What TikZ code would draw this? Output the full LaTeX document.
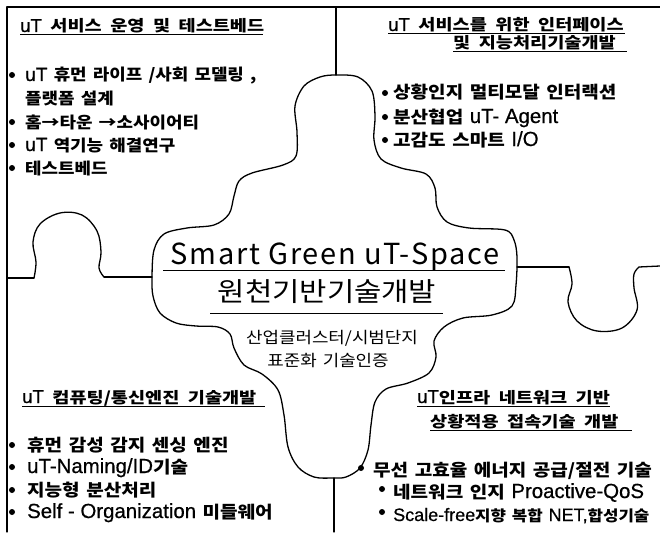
\documentclass[tikz,border=0pt]{standalone}
\usepackage{fontspec}
\setmainfont{Noto Sans CJK KR}
\newfontfamily\kr[FakeStretch=1.12,WordSpace=2]{Noto Sans CJK KR}
\newfontfamily\krb[FakeStretch=1.12,WordSpace=1.5]{Noto Sans CJK KR}
\newfontfamily\krt[FakeStretch=1.2,WordSpace=2]{Noto Sans CJK KR}
\newfontfamily\krc[LetterSpace=6]{Noto Sans CJK KR}
\newfontfamily\latf[Scale=1.2,FakeBold=0.6]{Liberation Sans}
\newcommand\latn[1]{{\latf\mdseries #1}}
\begin{document}
\begin{tikzpicture}[x=1pt,y=-1pt,
  outl/.style={line width=1.3pt,line join=round,line cap=round},
  txt/.style={anchor=base west,inner sep=0pt,font=\kr\bfseries\fontsize{16}{18}\selectfont},
  txtb/.style={anchor=base west,inner sep=0pt,font=\krb\bfseries\fontsize{17}{19}\selectfont},
  ttl/.style={anchor=base west,inner sep=0pt,font=\krt\bfseries\fontsize{15.5}{18}\selectfont},
  bul/.style={circle,fill,inner sep=0pt,minimum size=6pt},
  ul/.style={line width=1pt},
  ctr/.style={anchor=base,inner sep=0pt}]
\useasboundingbox (0,0) rectangle (660,532);
% frame
\draw[outl] (7,532) -- (7,7) -- (660,7);
\draw[outl] (336,7) -- (336,75);
\draw[outl] (334,478) -- (334,532);
% central puzzle piece
\draw[outl] plot[smooth cycle,tension=0.55] coordinates {
 (336,75) (358,77) (372,91) (375,116) (374,140) (381,159) (401,168) (426,174)
 (435,188) (437,207) (447,222) (469,228) (505,230) (514,240) (517,257) (516,285)
 (512,306) (492,315) (463,318) (444,327) (434,341) (436,357) (429,373) (408,383)
 (386,389) (375,402) (371,425) (368,450) (360,468) (346,477) (333,478) (314,477)
 (298,467) (288,447) (284,415) (278,390) (262,374) (244,365) (234,348) (230,334)
 (218,327) (196,326) (176,323) (160,313) (153,296) (152,277) (154,250) (164,234)
 (187,228) (214,225) (229,214) (234,196) (239,181) (252,173) (283,165) (296,156)
 (297,132) (295,106) (304,86) (320,77)};
% right line with tab
\draw[outl] (517,267) -- (569,267);
\draw[outl] plot[smooth,tension=0.6] coordinates {(569,267) (572,284) (568,302) (577,321) (597,331) (622,328) (637,310) (634,288) (634,274) (639,267)};
\draw[outl] (639,267) -- (660,266);
% left line with tab
\draw[outl] (7,278) -- (34,278);
\draw[outl] plot[smooth,tension=0.6] coordinates {(34,278) (36,262) (33,242) (40,224) (60,213) (82,215) (97,231) (101,252) (99,268) (104,277)};
\draw[outl] (104,277) -- (152,277);

% top-left
\node[ttl] (tlT) at (20,32) {\latn{uT} 서비스 운영 및 테스트베드};
\draw[ul] (20,35) -- (263,35);
\node[bul] (tlb1) at (12,75) {};
\node[txt] (tl1) at (25,81) {\latn{uT} 휴먼 라이프 /사회 모델링 ,};
\node[txt] (tl1b) at (25,104) {플랫폼 설계};
\node[bul] (tlb2) at (12,122) {};
\node[txt] (tl2) at (25,128) {홈→타운 →소사이어티};
\node[bul] (tlb3) at (12,145) {};
\node[txt] (tl3) at (25,151) {\latn{uT} 역기능 해결연구};
\node[bul] (tlb4) at (12,168) {};
\node[txt] (tl4) at (25,174) {테스트베드};

% top-right
\node[ttl] (trT1) at (388,31) {\latn{uT} 서비스를 위한 인터페이스};
\draw[ul] (388,34) -- (625,34);
\node[ttl] (trT2) at (453,49) {및 지능처리기술개발};
\draw[ul] (453,52) -- (627,52);
\node[bul] (trb1) at (385,93) {};
\node[txtb] (tr1) at (393,99) {상황인지 멀티모달 인터랙션};
\node[bul] (trb2) at (385,117) {};
\node[txtb] (tr2) at (393,123) {분산협업 \latn{uT- Agent}};
\node[bul] (trb3) at (385,140) {};
\node[txtb] (tr3) at (393,146) {고감도 스마트 \latn{I/O}};

% centre
\node[ctr,font=\krc\fontsize{29}{32}\selectfont] (c1) at (335,264) {Smart Green uT-Space};
\draw[ul] (163,270) -- (505,270);
\node[ctr,font=\kr\fontsize{26.5}{30}\selectfont] (c2) at (327,301) {원천기반기술개발};
\draw[ul] (210,313) -- (443,313);
\node[ctr,font=\kr\fontsize{16}{18}\selectfont] (c3) at (332,343) {산업클러스터/시범단지};
\node[ctr,font=\kr\fontsize{16}{18}\selectfont] (c4) at (328,366) {표준화 기술인증};

% bottom-left
\node[ttl] (blT) at (22,403) {\latn{uT} 컴퓨팅/통신엔진 기술개발};
\draw[ul] (22,406) -- (265,406);
\node[bul] (blb1) at (12,445) {};
\node[txtb] (bl1) at (27,451) {휴먼 감성 감지 센싱 엔진};
\node[bul] (blb2) at (12,467) {};
\node[txtb] (bl2) at (27,473) {\latn{uT-Naming/ID}기술};
\node[bul] (blb3) at (12,490) {};
\node[txtb] (bl3) at (27,496) {지능형 분산처리};
\node[bul] (blb4) at (12,512) {};
\node[txtb] (bl4) at (27,518) {\latn{Self - Organization} 미들웨어};

% bottom-right
\node[ttl] (brT1) at (417,403) {\latn{uT}인프라 네트워크 기반};
\draw[ul] (417,406) -- (610,406);
\node[ttl] (brT2) at (430,427) {상황적용 접속기술 개발};
\draw[ul] (430,430) -- (632,430);
\node[bul] (brb1) at (361,468) {};
\node[txtb] (br1) at (373,476) {무선 고효율 에너지 공급/절전 기술};
\node[bul] (brb2) at (382,489) {};
\node[txtb] (br2) at (393,498) {네트워크 인지 \latn{Proactive-QoS}};
\node[bul] (brb3) at (382,512) {};
\node[txtb,font=\krb\bfseries\fontsize{15}{18}\selectfont] (br3) at (393,521) {\latn{Scale-free}지향 복합 \latn{NET,}합성기술};
\end{tikzpicture}
\end{document}
